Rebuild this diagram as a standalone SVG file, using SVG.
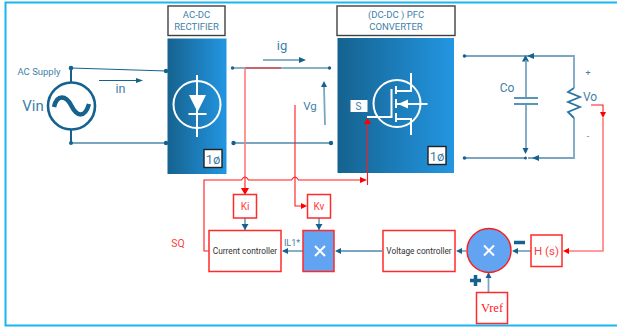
<svg xmlns="http://www.w3.org/2000/svg" width="617" height="329" viewBox="0 0 617 329">
<style>
text{font-family:Roboto,"Liberation Sans",Arial,sans-serif;fill:#3f7fa8;text-anchor:middle}
.w{fill:none;stroke:#15628f;stroke-width:1.2}
.t{fill:none;stroke:#7ba6c2;stroke-width:1.8}
.r{fill:none;stroke:#ff1a1a;stroke-width:1.1}
.rt{fill:none;stroke:#ff7b7b;stroke-width:1.6}
.box{fill:#fff;stroke:#ff2a2a;stroke-width:1.5}
.ic{fill:none;stroke:#fff;stroke-width:2}
.d{fill:#15628f}
.ah{fill:#15628f}
.ra{fill:#ff0000}
.lab{fill:#fff;stroke:#404040;stroke-width:1.4}
.red{fill:#ff4040}
.dk{fill:#333}
</style>
<defs>
<linearGradient id="g" x1="0" x2="1" y1="0" y2="0"><stop offset="0" stop-color="#15628f"/><stop offset="1" stop-color="#2396e2"/></linearGradient>
</defs>
<path id="frame" d="M617 2.500H5.500V325.500H617" fill="none" stroke="#19b5f1" stroke-width="2"/>
<g id="ac-supply">
<circle cx="71.500" cy="106" r="23.500" fill="#fff" stroke="#15628f" stroke-width="2.600"/>
<path d="M54 107C57 94 66 95 71.500 106S85 118 89 104" fill="none" stroke="#15628f" stroke-width="4.500"/>
<text x="39" y="74.500" font-size="9.500">AC Supply</text>
<text x="33" y="111" font-size="15">Vin</text>
<text x="120.500" y="93" font-size="12.500">in</text>
</g>
<g id="rectifier">
<rect class="lab" x="168" y="6" width="57" height="29.500"/>
<text x="196.500" y="18" font-size="9.500">AC-DC</text>
<text x="196.500" y="30" font-size="9.500">RECTIFIER</text>
<rect x="167.500" y="38.500" width="59" height="135.500" fill="url(#g)"/>
<circle class="ic" cx="197" cy="104.500" r="23.500"/>
<path class="ic" d="M197 75V137M188.500 114H206.500"/>
<path d="M189 95H206L197.500 112Z" fill="#fff"/>
<rect x="204" y="149.500" width="18" height="18" fill="#fff" stroke="#222" stroke-width="1.400"/>
<text x="213" y="164" font-size="13">1ø</text>
</g>
<g id="pfc-converter">
<rect class="lab" x="337" y="6" width="118" height="29.500"/>
<text x="396" y="18" font-size="9.500">(DC-DC ) PFC</text>
<text x="396" y="30" font-size="9.500">CONVERTER</text>
<rect x="337.500" y="38" width="116.500" height="135" fill="url(#g)"/>
<circle class="ic" cx="397" cy="103.500" r="23.500"/>
<path class="ic" d="M367 117H391.500V89M396 86V94M396 99V108M396 113V122M396 91H411V73M396 119H411V135M396 104H427.500"/>
<path d="M398 104L408 99.500V108.500Z" fill="#fff"/>
<rect x="350.500" y="100" width="17" height="12" fill="#fff"/>
<text x="358.500" y="109.500" font-size="10">S</text>
<rect x="428" y="146.500" width="18" height="18" fill="#fff" stroke="#222" stroke-width="1.400"/>
<text x="437" y="161" font-size="13">1ø</text>
</g>
<g id="connectors">
<path class="w" d="M71 68L167 71"/>
<path class="t" d="M71 143H167"/>
<path d="M71 68V82M71 130V143" fill="none" stroke="#15628f" stroke-width="2"/>
<circle class="d" cx="71" cy="68" r="2.300"/><circle class="d" cx="71" cy="143" r="2"/>
<circle class="d" cx="166" cy="71" r="2.200"/><circle class="d" cx="166" cy="143" r="2.200"/>
<path class="w" d="M99 80.500H139"/><path class="ah" d="M143 80.500L136 78V83Z"/>
<path class="w" d="M263 60H303"/><path class="ah" d="M306 60L299 57V63Z"/>
<path class="w" d="M232 68H329"/><circle class="d" cx="232.500" cy="68" r="1.700"/><circle class="d" cx="329.500" cy="68" r="1.700"/>
<path class="t" d="M233 143H331"/><circle class="d" cx="233.500" cy="143" r="2.200"/><circle class="d" cx="331" cy="143" r="2.200"/>
<path class="t" d="M325 125L324 86"/><path class="ah" d="M324 81L321 87H327Z"/>
<path class="t" d="M464 56H574V88M574 118V158H528"/>
<path class="t" d="M464 158H526"/>
<circle class="d" cx="464.500" cy="56" r="1.800"/><circle class="d" cx="464.500" cy="158" r="1.800"/>
<path class="ah" d="M527 56L534 53V59Z M532 158L539 155V161Z M525.500 55L522 61.500H529Z"/>
<path class="t" d="M526 60V98M526 104V152"/>
<path class="ah" d="M525.500 154L522.500 148H528.500Z"/>
<circle class="d" cx="525.500" cy="158" r="1.500"/>
<path d="M514 98H538M514 104H538" fill="none" stroke="#5a94b8" stroke-width="1.800"/>
<path d="M574 88L568 92L580 97L568 102L580 107L568 112L574 118" fill="none" stroke="#2a75a3" stroke-width="1.800"/>
<path class="r" d="M281 68H245"/>
<path class="rt" d="M245 68V178"/>
<path class="r" d="M245 178V192"/>
<path class="ra" d="M245 195L241 188H249Z"/>
<path class="r" d="M295 105V178"/>
<path class="r" d="M295 178V206H303"/>
<path class="ra" d="M307 206L301 203V209Z"/>
<path class="r" d="M209 251H204V180H241.500Q245 174 248.500 180H291.500Q295 174 298.500 180H362"/>
<path class="ra" d="M367 180L360 177V183Z"/>
<path class="r" d="M367.500 120V185"/>
<path class="ra" d="M367.500 118L364 124H371Z"/>
<path class="r" d="M591 105H603V112"/>
<path class="ra" d="M603 118L600 112H606Z"/>
<path class="rt" d="M603 118V251H565"/>
<path class="ra" d="M563 251L569 248V254Z"/>
<path class="t" d="M245 218V230"/><path class="ah" d="M245 230L241.500 224H248.500Z"/>
<path class="t" d="M319 218V230"/><path class="ah" d="M319 230L315.500 224H322.500Z"/>
<path class="t" d="M303 251H283"/><path class="ah" d="M282 251L288 248V254Z"/>
<path class="t" d="M382 251H337"/><path class="ah" d="M335 251L341 248V254Z"/>
<path class="t" d="M466 251H460"/><path class="ah" d="M456 251L462 248V254Z"/>
<path class="t" d="M536 251H515"/><path class="ah" d="M512 251L518 248V254Z"/>
<path class="t" d="M488.500 292V277"/><path class="ah" d="M488.500 272L485.500 278H491.500Z"/>
</g>
<g id="labels">
<text x="282" y="50" font-size="13">ig</text>
<text x="310" y="110" font-size="11.500">Vg</text>
<text x="507" y="92" font-size="12">Co</text>
<text x="590" y="101" font-size="12">Vo</text>
<text x="588" y="76" font-size="9">+</text>
<text x="588" y="139" font-size="9">-</text>
</g>
<g id="ki"><rect class="box" x="233.500" y="194.500" width="23" height="23.500"/><text class="red" x="245" y="209.500" font-size="10">Ki</text></g>
<g id="kv"><rect class="box" x="307.500" y="194.500" width="23" height="23.500"/><text class="red" x="319" y="209.500" font-size="10">Kv</text></g>
<g id="current-controller"><rect class="box" x="209" y="230.500" width="72" height="41"/><text class="dk" x="245" y="254" font-size="8.300">Current controller</text>
<text class="red" x="178" y="247" font-size="10.500">SQ</text>
<text x="292" y="246" font-size="9">IL1*</text></g>
<g id="multiplier"><rect class="box" x="303" y="230.500" width="31" height="41" style="fill:#62a3f2"/><path d="M315 246L325 256M325 246L315 256" stroke="#fff" stroke-width="2"/></g>
<g id="voltage-controller"><rect class="box" x="383" y="230.500" width="72" height="41"/><text class="dk" x="419" y="254" font-size="8.300">Voltage controller</text></g>
<g id="summer"><circle cx="489" cy="250.500" r="22" fill="#62a3f2" stroke="#ff1a1a" stroke-width="1.400"/><path d="M484 245.500L494 255.500M494 245.500L484 255.500" stroke="#fff" stroke-width="2"/>
<path d="M514 242.500H525M475.500 275V286M470 280.500H481" stroke="#15628f" stroke-width="3.500" fill="none"/></g>
<g id="h-s"><rect class="box" x="531" y="235" width="31" height="31.500"/><text class="red" x="546.500" y="255" font-size="11.500">H (s)</text></g>
<g id="vref"><rect class="box" x="476.500" y="292.500" width="31" height="31"/><text x="492" y="312" font-size="12.500" style="fill:#ff2020;font-family:'Liberation Serif',serif">Vref</text></g>
</svg>
